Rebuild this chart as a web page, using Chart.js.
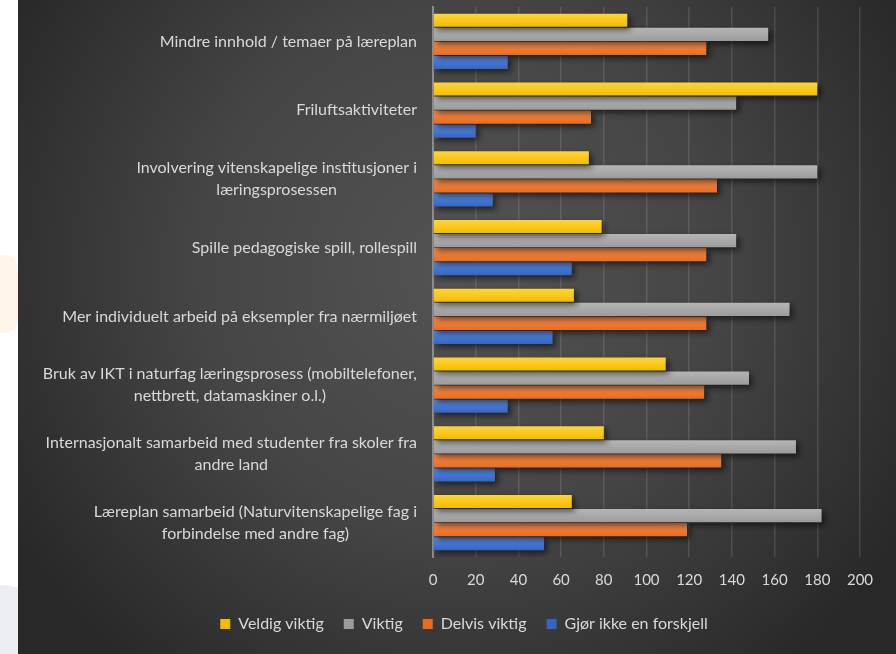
<!DOCTYPE html>
<html>
<head>
<meta charset="utf-8">
<script src="https://cdn.jsdelivr.net/npm/chart.js@4/dist/chart.umd.min.js"></script>
<style>
    html, body { margin: 0; padding: 0; background: #ffffff; }
    body { width: 896px; height: 654px; position: relative; overflow: hidden; }
    .blob-orange { position: absolute; left: -30px; top: 255px; width: 48px; height: 78px; background: #fff5ea; border-radius: 0 14px 14px 0; }
    .blob-grey { position: absolute; left: -60px; top: 585px; width: 120px; height: 120px; background: #eceef4; border-radius: 50%; }
    #chart-container { position: absolute; left: 18px; top: 0; width: 878px; height: 654px; }
</style>
</head>
<body>
<div class="blob-orange"></div>
<div class="blob-grey"></div>
<div id="chart-container"><canvas id="surveyChart"></canvas></div>
<script>
// Categories (one array of lines per label)
const categories = [
    ['Mindre innhold / temaer på læreplan'],
    ['Friluftsaktiviteter'],
    ['Involvering vitenskapelige institusjoner i', 'læringsprosessen'],
    ['Spille pedagogiske spill, rollespill'],
    ['Mer individuelt arbeid på eksempler fra nærmiljøet'],
    ['Bruk av IKT i naturfag læringsprosess (mobiltelefoner,', 'nettbrett, datamaskiner o.l.)'],
    ['Internasjonalt samarbeid med studenter fra skoler fra', 'andre land'],
    ['Læreplan samarbeid (Naturvitenskapelige fag i', 'forbindelse med andre fag)']
];

const seriesNames = ['Veldig viktig', 'Viktig', 'Delvis viktig', 'Gjør ikke en forskjell'];
const veldigViktig = [91, 180, 73, 79, 66, 109, 80, 65];
const viktig = [157, 142, 180, 142, 167, 148, 170, 182];
const delvisViktig = [128, 74, 133, 128, 128, 127, 135, 119];
const gjorIkkeForskjell = [35, 20, 28, 65, 56, 35, 29, 52];

const xTicks = [0, 20, 40, 60, 80, 100, 120, 140, 160, 180, 200];

const labelFont = '16px Lato';
const textColor = '#d9d9d9';

// top / bottom colours of each bar gradient
const barColors = [
    ['#ffd43a', '#f2bd00'],
    ['#b5b5b5', '#9c9c9c'],
    ['#f68d50', '#e86d1f'],
    ['#5a8be0', '#3565c3']
];

// Vertical gradient per bar, using the element's position once it is laid out
const barFill = (idx) => (ctx) => {
    const el = ctx.element;
    const [top, bottom] = barColors[idx];
    if (!el || el.y === undefined || !el.height) return bottom;
    const g = ctx.chart.ctx.createLinearGradient(0, el.y - el.height / 2, 0, el.y + el.height / 2);
    g.addColorStop(0, top);
    g.addColorStop(1, bottom);
    return g;
};

const makeDataset = (label, data, idx) => ({
    label: label,
    data: data,
    backgroundColor: barFill(idx),
    borderWidth: 0,
    barPercentage: 0.93,
    categoryPercentage: 0.818
});

// Dark radial backdrop
const backdrop = {
    id: 'backdrop',
    beforeDraw(chart) {
        const { ctx, width, height } = chart;
        const g = ctx.createRadialGradient(440, 270, 0, 440, 270, 520);
        g.addColorStop(0, '#535353');
        g.addColorStop(0.5, '#454545');
        g.addColorStop(1, '#282828');
        ctx.save();
        ctx.fillStyle = g;
        ctx.fillRect(0, 0, width, height);
        ctx.restore();
    }
};

// Soft drop shadow under the bars
const barShadow = {
    id: 'barShadow',
    beforeDatasetsDraw(chart) {
        const ctx = chart.ctx;
        ctx.save();
        ctx.shadowColor = 'rgba(0, 0, 0, 0.6)';
        ctx.shadowBlur = 6;
        ctx.shadowOffsetX = 3;
        ctx.shadowOffsetY = 3;
    },
    afterDatasetsDraw(chart) {
        chart.ctx.restore();
    }
};

// Nudge the legend row to the right of the canvas centre
const legendShift = {
    id: 'legendShift',
    afterLayout(chart) {
        if (chart.legend) {
            chart.legend.left += 25;
            chart.legend.right += 25;
        }
    }
};

// Category labels: block right-aligned to the axis, lines centred inside the block
const categoryLabels = {
    id: 'categoryLabels',
    afterDraw(chart) {
        const { ctx } = chart;
        const yScale = chart.scales.y;
        const right = chart.chartArea.left - 16;
        const lineHeight = 22;
        ctx.save();
        ctx.font = labelFont;
        ctx.fillStyle = textColor;
        ctx.textAlign = 'center';
        ctx.textBaseline = 'middle';
        categories.forEach((lines, i) => {
            const y = yScale.getPixelForTick(i);
            const widest = Math.max(...lines.map(l => ctx.measureText(l).width));
            const cx = right - widest / 2;
            const y0 = y - (lines.length - 1) * lineHeight / 2;
            lines.forEach((line, j) => ctx.fillText(line, cx, y0 + j * lineHeight));
        });
        ctx.restore();
    }
};

const chart = new Chart(document.getElementById('surveyChart'), {
    type: 'bar',
    data: {
        labels: categories,
        datasets: [
            makeDataset(seriesNames[0], veldigViktig, 0),
            makeDataset(seriesNames[1], viktig, 1),
            makeDataset(seriesNames[2], delvisViktig, 2),
            makeDataset(seriesNames[3], gjorIkkeForskjell, 3)
        ]
    },
    options: {
        indexAxis: 'y',
        responsive: true,
        maintainAspectRatio: false,
        animation: false,
        layout: {
            padding: { top: 7, right: 36, bottom: 12, left: 0 }
        },
        scales: {
            x: {
                min: 0,
                max: 200,
                afterBuildTicks: (scale) => {
                    scale.ticks = xTicks.map(v => ({ value: v }));
                },
                afterFit: (scale) => { scale.height = 39; },
                grid: {
                    color: 'rgba(255, 255, 255, 0.12)',
                    lineWidth: 1.5,
                    drawTicks: false
                },
                border: { display: false },
                ticks: {
                    color: textColor,
                    font: { family: 'Lato', size: 15 },
                    padding: 14,
                    maxRotation: 0
                }
            },
            y: {
                afterFit: (scale) => { scale.width = 415; },
                grid: { display: false, drawTicks: false },
                border: { display: true, color: '#8c8c8c', width: 2 },
                ticks: { display: false }
            }
        },
        plugins: {
            legend: {
                position: 'bottom',
                labels: {
                    color: textColor,
                    font: { family: 'Lato', size: 16 },
                    boxWidth: 10,
                    boxHeight: 10,
                    padding: 20,
                    generateLabels: (ch) => ch.data.datasets.map((ds, i) => ({
                        text: ds.label,
                        fillStyle: barColors[i][1],
                        strokeStyle: barColors[i][1],
                        lineWidth: 0,
                        fontColor: textColor,
                        datasetIndex: i
                    }))
                }
            },
            tooltip: { enabled: false }
        }
    },
    plugins: [backdrop, barShadow, legendShift, categoryLabels]
});

// second pass so the bar gradients pick up the laid-out bar positions
chart.update();
</script>
</body>
</html>
